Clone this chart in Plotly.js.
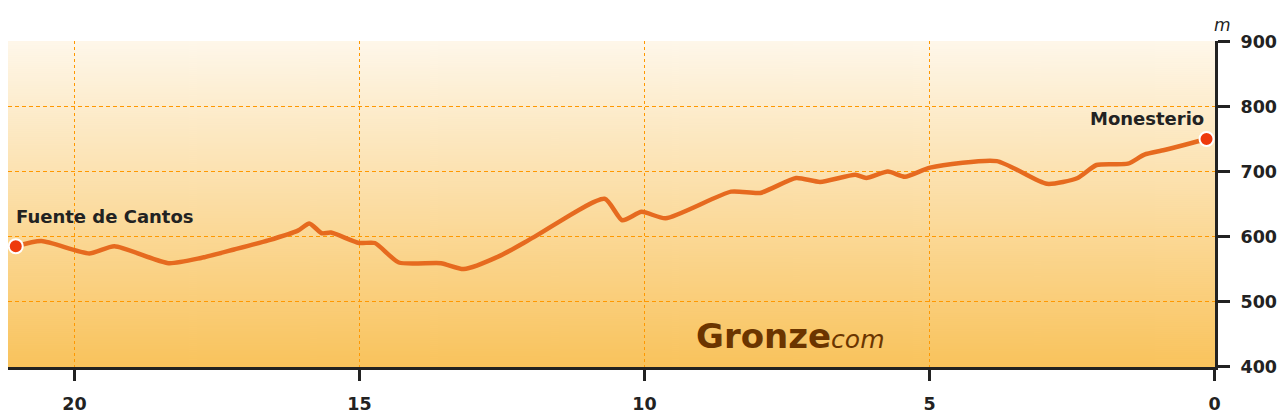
<!DOCTYPE html>
<html>
<head>
<meta charset="utf-8">
<script src="https://cdn.plot.ly/plotly-3.0.1.min.js"></script>
<style>html,body{margin:0;padding:0;background:#fff;}#chart{width:1288px;height:420px;}</style>
</head>
<body>
<div id="chart"></div>
<script>
// Distance remaining (km) and elevation (m)
const distanceKm = [21.03, 20.58, 19.74, 19.30, 18.35, 17.78, 17.20, 16.60, 16.08, 15.88, 15.66, 15.50, 15.01, 14.73, 14.31, 13.57, 13.17, 12.52, 11.94, 10.70, 10.39, 10.05, 9.63, 8.48, 7.97, 7.34, 6.92, 6.30, 6.11, 5.73, 5.43, 4.99, 3.82, 2.94, 2.40, 2.07, 1.52, 1.23, 0.88, 0.14];
const elevationM = [585, 593, 574, 585, 559, 567, 580, 594, 609, 620, 605, 606, 590, 590, 560, 559, 550, 571, 599, 658, 625, 638, 628, 669, 667, 690, 684, 695, 690, 700, 692, 706, 716, 681, 690, 710, 712, 726, 733, 750];
const placeNames = ["Fuente de Cantos", "Monesterio"];
const xTicks = [0, 5, 10, 15, 20];
const yTicks = [400, 500, 600, 700, 800, 900];

// gradient background image
const cv = document.createElement('canvas');
cv.width = 10; cv.height = 326;
const ctx = cv.getContext('2d');
const g = ctx.createLinearGradient(0, 0, 0, 326);
g.addColorStop(0, '#fef7ea');
g.addColorStop(1, '#f9c35c');
ctx.fillStyle = g; ctx.fillRect(0, 0, 10, 326);
const bgUrl = cv.toDataURL('image/png');

const lineTrace = {
  x: distanceKm, y: elevationM, type: 'scatter', mode: 'lines',
  line: {color: '#e66a1f', width: 4.5, shape: 'spline', smoothing: 0.6},
  hoverinfo: 'skip'
};
const endpoints = {
  x: [distanceKm[0], distanceKm[distanceKm.length - 1]],
  y: [elevationM[0], elevationM[elevationM.length - 1]],
  type: 'scatter', mode: 'markers',
  marker: {color: '#ee3a0c', size: 14, line: {color: '#ffffff', width: 2}},
  hoverinfo: 'skip', cliponaxis: false
};

const tickFont = {family: 'DejaVu Sans, Verdana, sans-serif', size: 17.5, color: '#222', weight: 'bold'};
const labelFont = {family: 'DejaVu Sans, Verdana, sans-serif', size: 18, color: '#222', weight: 'bold'};

const layout = {
  width: 1288, height: 420,
  margin: {l: 8, r: 73, t: 41, b: 53},
  paper_bgcolor: '#ffffff',
  plot_bgcolor: 'rgba(0,0,0,0)',
  showlegend: false,
  images: [{source: bgUrl, xref: 'paper', yref: 'paper', x: 0, y: 1, sizex: 1, sizey: 1,
            sizing: 'stretch', xanchor: 'left', yanchor: 'top', layer: 'below'}],
  xaxis: {
    range: [21.16623, -0.00877], autorange: false,
    tickvals: xTicks, ticktext: xTicks.map(String),
    ticks: 'outside', ticklen: 11, tickwidth: 3, tickcolor: '#222',
    showline: true, linecolor: '#222', linewidth: 3,
    showgrid: true, gridcolor: '#ff9800', gridwidth: 1, griddash: '3px,3px',
    zeroline: false, tickfont: tickFont, ticklabelstandoff: 8, fixedrange: true
  },
  yaxis: {
    range: [399.231, 900.769], autorange: false, side: 'right',
    tickvals: yTicks, ticktext: yTicks.map(String),
    ticks: 'outside', ticklen: 12, tickwidth: 3, tickcolor: '#222',
    showline: true, linecolor: '#222', linewidth: 3,
    showgrid: true, gridcolor: '#ff9800', gridwidth: 1, griddash: '4px,3px',
    zeroline: false, tickfont: tickFont, ticklabelstandoff: 7, fixedrange: true
  },
  annotations: [
    {x: distanceKm[0], y: 631, xref: 'x', yref: 'y', text: placeNames[0],
     showarrow: false, xanchor: 'left', yanchor: 'middle', xshift: -2, font: labelFont},
    {x: distanceKm[distanceKm.length - 1], y: 781, xref: 'x', yref: 'y', text: placeNames[1],
     showarrow: false, xanchor: 'right', yanchor: 'middle', xshift: -1, font: labelFont},
    {x: 1.006, y: 1.05, xref: 'paper', yref: 'paper', text: '<i>m</i>', showarrow: false,
     xanchor: 'center', yanchor: 'middle',
     font: {family: 'DejaVu Sans, Verdana, sans-serif', size: 17, color: '#222'}},
    {x: 0.5685, y: 0.095, xref: 'paper', yref: 'paper',
     text: '<b>Gronze</b><span style="font-size:25px"><i>com</i></span>', showarrow: false,
     xanchor: 'left', yanchor: 'middle',
     font: {family: 'DejaVu Sans, Verdana, sans-serif', size: 34, color: '#6b3500'}}
  ]
};

Plotly.newPlot('chart', [lineTrace, endpoints], layout, {displayModeBar: false, staticPlot: true});
</script>
</body>
</html>
